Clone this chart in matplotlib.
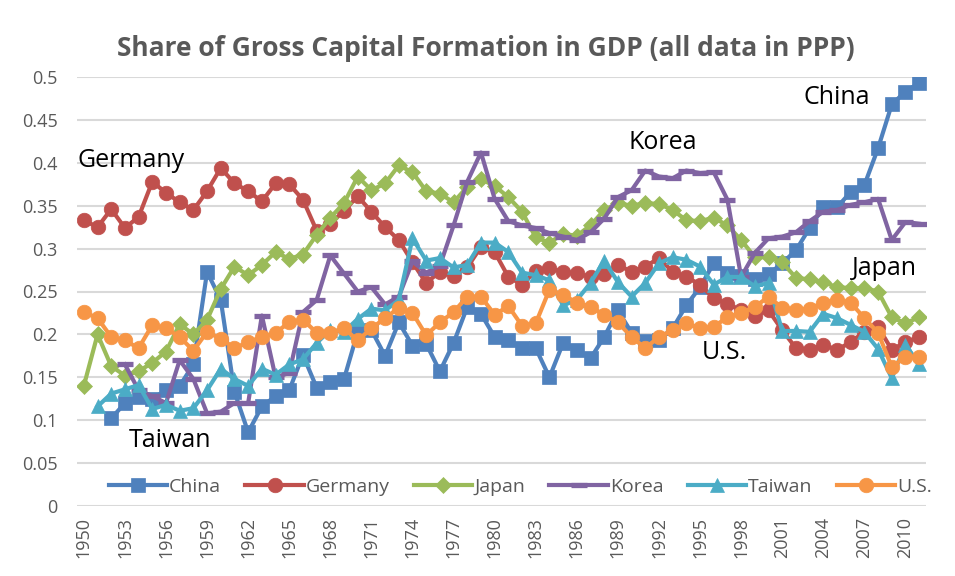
import numpy as np
import matplotlib
matplotlib.use("Agg")
import matplotlib.pyplot as plt

nan = np.nan
years = list(range(1950, 2012))

china = [nan, nan, 0.102, 0.120, 0.127, 0.125, 0.135, 0.140, 0.165, 0.273,
         0.240, 0.133, 0.086, 0.116, 0.128, 0.135, 0.176, 0.138, 0.144, 0.148,
         0.203, 0.205, 0.175, 0.214, 0.187, 0.189, 0.157, 0.190, 0.232, 0.224,
         0.197, 0.194, 0.184, 0.184, 0.150, 0.190, 0.182, 0.172, 0.197, 0.228,
         0.202, 0.192, 0.194, 0.207, 0.234, 0.255, 0.283, 0.272, 0.268, 0.265,
         0.270, 0.283, 0.298, 0.324, 0.348, 0.348, 0.366, 0.374, 0.417, 0.468,
         0.483, 0.493]
germany = [0.333, 0.325, 0.346, 0.324, 0.337, 0.378, 0.365, 0.354, 0.345, 0.367,
           0.394, 0.376, 0.367, 0.355, 0.376, 0.375, 0.357, 0.321, 0.329, 0.344,
           0.361, 0.343, 0.325, 0.310, 0.284, 0.260, 0.273, 0.268, 0.278, 0.302,
           0.296, 0.267, 0.258, 0.274, 0.277, 0.273, 0.271, 0.267, 0.270, 0.281,
           0.273, 0.279, 0.289, 0.273, 0.267, 0.258, 0.242, 0.236, 0.228, 0.222,
           0.228, 0.205, 0.184, 0.182, 0.188, 0.182, 0.191, 0.203, 0.209, 0.182,
           0.191, 0.197]
japan = [0.140, 0.200, 0.163, 0.152, 0.157, 0.167, 0.180, 0.212, 0.200, 0.217,
         0.253, 0.279, 0.269, 0.281, 0.296, 0.288, 0.293, 0.316, 0.336, 0.353,
         0.384, 0.368, 0.376, 0.397, 0.389, 0.367, 0.364, 0.354, 0.372, 0.381,
         0.373, 0.360, 0.343, 0.313, 0.307, 0.317, 0.315, 0.327, 0.345, 0.353,
         0.350, 0.353, 0.352, 0.345, 0.333, 0.332, 0.336, 0.327, 0.310, 0.290,
         0.290, 0.284, 0.266, 0.264, 0.261, 0.255, 0.254, 0.254, 0.250, 0.220,
         0.213, 0.220]
korea = [nan, nan, nan, 0.165, 0.135, 0.128, 0.120, 0.170, 0.148, 0.108,
         0.110, 0.120, 0.120, 0.222, 0.150, 0.155, 0.226, 0.240, 0.292, 0.271,
         0.250, 0.255, 0.235, 0.244, 0.285, 0.272, 0.280, 0.327, 0.378, 0.412,
         0.358, 0.332, 0.327, 0.324, 0.318, 0.314, 0.310, 0.319, 0.335, 0.360,
         0.368, 0.391, 0.384, 0.382, 0.391, 0.388, 0.389, 0.357, 0.267, 0.295,
         0.312, 0.314, 0.319, 0.332, 0.343, 0.345, 0.351, 0.354, 0.358, 0.310,
         0.331, 0.329]
taiwan = [nan, 0.116, 0.131, 0.136, 0.141, 0.113, 0.118, 0.111, 0.114, 0.135,
          0.160, 0.148, 0.140, 0.160, 0.153, 0.165, 0.171, 0.190, 0.205, 0.203,
          0.218, 0.230, 0.228, 0.240, 0.312, 0.286, 0.289, 0.278, 0.281, 0.307,
          0.307, 0.296, 0.272, 0.269, 0.263, 0.234, 0.240, 0.260, 0.286, 0.261,
          0.244, 0.260, 0.283, 0.290, 0.287, 0.279, 0.258, 0.267, 0.267, 0.256,
          0.260, 0.204, 0.204, 0.203, 0.224, 0.219, 0.211, 0.203, 0.183, 0.149,
          0.188, 0.165]
us = [0.226, 0.219, 0.197, 0.193, 0.184, 0.211, 0.207, 0.197, 0.181, 0.203,
      0.195, 0.184, 0.191, 0.197, 0.202, 0.214, 0.217, 0.202, 0.202, 0.207,
      0.193, 0.207, 0.219, 0.231, 0.225, 0.199, 0.214, 0.226, 0.244, 0.244,
      0.223, 0.233, 0.210, 0.213, 0.252, 0.246, 0.237, 0.232, 0.223, 0.214,
      0.197, 0.184, 0.197, 0.205, 0.213, 0.207, 0.209, 0.220, 0.225, 0.232,
      0.244, 0.231, 0.229, 0.230, 0.237, 0.240, 0.237, 0.219, 0.202, 0.162,
      0.174, 0.174]

series_names = ["China", "Germany", "Japan", "Korea", "Taiwan", "U.S."]
series_data = [china, germany, japan, korea, taiwan, us]
colors = ["#4F81BD", "#C0504D", "#9BBB59", "#8064A2", "#4BACC6", "#F79646"]
markers = ["s", "o", "D", "_", "^", "o"]
msizes = [9.5, 10.5, 8.5, 11, 10.5, 10.5]

title = "Share of Gross Capital Formation in GDP (all data in PPP)"
yticks = [0, 0.05, 0.1, 0.15, 0.2, 0.25, 0.3, 0.35, 0.4, 0.45, 0.5]
ytick_labels = ["0", "0.05", "0.1", "0.15", "0.2", "0.25", "0.3", "0.35", "0.4", "0.45", "0.5"]

plt.rcParams['font.family'] = ['Open Sans', 'DejaVu Sans']

fig = plt.figure(figsize=(9.55, 5.76), dpi=100)
ax = fig.add_axes([77/955, 1-506/576, (926-77)/955, (506-77)/576])

x = np.arange(len(years))
for name, data, c, m, ms in zip(series_names, series_data, colors, markers, msizes):
    kw = dict(color=c, linewidth=3.0, marker=m, markersize=ms,
              markerfacecolor=c, markeredgecolor=c, label=name)
    if m == "_":
        kw["markeredgewidth"] = 3.8
    else:
        kw["markeredgewidth"] = 0.5
    ax.plot(x, np.array(data, dtype=float), **kw)

ax.set_xlim(-0.5, len(years) - 0.5)
ax.set_ylim(0, 0.5)
ax.set_yticks(yticks)
ax.set_yticklabels(ytick_labels)
xt = x[::3]
ax.set_xticks(xt)
ax.set_xticklabels([str(years[i]) for i in xt], rotation=90)
ax.tick_params(axis='both', length=0, labelsize=13, labelcolor="#595959")
ax.tick_params(axis='x', pad=8)
ax.tick_params(axis='y', pad=14)
ax.grid(axis='y', color="#D9D9D9", linewidth=1.5)
ax.set_axisbelow(True)
for s in ax.spines.values():
    s.set_visible(False)

fig.text(486/955, 1-48/576, title, ha='center', va='center', fontsize=19,
         fontweight='bold', color="#595959")

ann = [("Germany", -0.5, 0.403, 'left'), ("Taiwan", 6.3, 0.076, 'center'),
       ("Korea", 42.3, 0.424, 'center'), ("China", 55.0, 0.476, 'center'),
       ("Japan", 58.5, 0.277, 'center'), ("U.S.", 46.8, 0.179, 'center')]
for t, xx, yy, ha in ann:
    ax.text(xx, yy, t, ha=ha, va='center', fontsize=18, color='black')

leg = ax.legend(loc='center', bbox_to_anchor=(0.522, 0.044), ncol=6, frameon=False,
                fontsize=14, handlelength=3.0, columnspacing=1.25, handletextpad=0.1,
                labelcolor="#595959")

fig.savefig("out.png", dpi=100)
